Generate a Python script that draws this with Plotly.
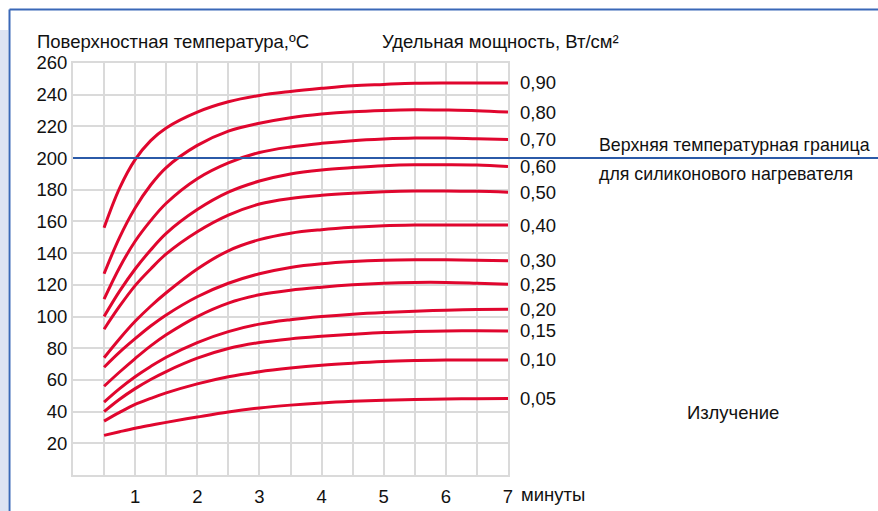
import plotly.graph_objects as go

# Time points (minutes)
minutes = [0.5, 0.75, 1.0, 1.25, 1.5, 2.0, 2.5, 3.0, 3.5, 4.0, 4.5, 5.0, 5.5, 6.0, 6.5, 7.0]

# Specific power labels (W/cm²)
power_labels = ["0,90", "0,80", "0,70", "0,60", "0,50", "0,40", "0,30", "0,25", "0,20", "0,15", "0,10", "0,05"]

# Surface temperature (°C) for each power level
t_090 = [156, 181, 199, 211, 219, 229, 235.5, 239.5, 242, 244, 245.7, 246.5, 247.2, 247.4, 247.4, 247.4]
t_080 = [127, 150, 168.5, 183, 194, 208, 217, 222, 225.5, 227.8, 229.3, 230.1, 230.5, 230.3, 229.9, 229]
t_070 = [111, 131, 147.5, 160.5, 171.5, 187, 197, 203.5, 207, 209.3, 211, 212, 212.6, 212.6, 212.2, 211.8]
t_060 = [100, 116, 130, 142, 152.5, 167.5, 178.5, 185.5, 190, 192.5, 194, 195.2, 195.8, 195.8, 195.6, 194.7]
t_050 = [92, 106.5, 119.5, 130, 139.5, 153.5, 164, 171, 174.5, 176.5, 177.8, 178.7, 179.2, 179.2, 179, 178.5]
t_040 = [74, 86, 97, 106.5, 115, 130, 141.5, 148.5, 152.6, 154.8, 156.3, 157.3, 157.7, 157.8, 157.8, 157.7]
t_030 = [68, 77.5, 86, 94, 101, 112.5, 121, 127, 131, 133.3, 134.7, 135.5, 135.8, 135.8, 135.6, 135.2]
t_025 = [56, 65, 73.5, 81.5, 88.5, 100, 108.5, 113.7, 116.6, 118.5, 120, 121, 121.5, 121.5, 121, 120.4]
t_020 = [46, 54.5, 62, 68.5, 74.3, 83.6, 90.5, 95.2, 98, 100, 101.5, 102.6, 103.4, 104, 104.4, 104.6]
t_015 = [40, 47.8, 54.5, 60.3, 65.3, 73.7, 79.8, 83.6, 85.9, 87.5, 88.8, 89.9, 90.5, 90.9, 91, 90.9]
t_010 = [34, 39.5, 44.5, 48.3, 51.8, 57.5, 62, 65.2, 67.5, 69.3, 70.6, 71.6, 72.2, 72.6, 72.6, 72.6]
t_005 = [25, 27.3, 29.5, 31.4, 33.2, 36.6, 39.8, 42.3, 44.1, 45.5, 46.5, 47.2, 47.6, 48, 48.1, 48.2]

series = [t_090, t_080, t_070, t_060, t_050, t_040, t_030, t_025, t_020, t_015, t_010, t_005]

# Axis ticks
y_ticks = [20, 40, 60, 80, 100, 120, 140, 160, 180, 200, 220, 240, 260]
x_grid = [0, 0.5, 1, 1.5, 2, 2.5, 3, 3.5, 4, 4.5, 5, 5.5, 6, 6.5, 7]
x_ticktext = ["", "", "1", "", "2", "", "3", "", "4", "", "5", "", "6", "", "7"]
limit_temp = 200

RED = "#e0062e"
BLUE = "#2b5aa8"
GRID = "#dadada"
FONT = "Liberation Sans, Arial, sans-serif"
FS = 18.5

fig = go.Figure()
for lab, ys in zip(power_labels, series):
    fig.add_trace(go.Scatter(x=minutes, y=ys, mode="lines", name=lab,
                             line=dict(color=RED, width=3, shape="spline", smoothing=1.0),
                             hoverinfo="skip", showlegend=False))
    fig.add_annotation(x=minutes[-1], y=ys[-1], xref="x", yref="y", text=lab,
                       showarrow=False, xanchor="left", yanchor="middle", xshift=10,
                       font=dict(size=FS, color="#111", family=FONT))

# Upper temperature limit line
fig.add_shape(type="line", xref="paper", yref="y", x0=0, x1=(878 - 73) / 435,
              y0=limit_temp, y1=limit_temp, line=dict(color=BLUE, width=2), layer="above")

# Decorative frame
fig.add_shape(type="rect", xref="paper", yref="paper", x0=-73 / 435, x1=(8 - 73) / 435,
              y0=-36 / 412 - 0.01, y1=(475 - 30) / 412, fillcolor="#dde3f3", line=dict(width=0), layer="below")
fig.add_shape(type="line", xref="paper", yref="paper", x0=(9.5 - 73) / 435, x1=(880 - 73) / 435,
              y0=(475 - 9.5) / 412, y1=(475 - 9.5) / 412, line=dict(color="#3a68b8", width=2))
fig.add_shape(type="line", xref="paper", yref="paper", x0=(9.5 - 73) / 435, x1=(9.5 - 73) / 435,
              y0=-36 / 412 - 0.01, y1=(475 - 9.5) / 412, line=dict(color="#3a68b8", width=2))

def px_x(px):
    return (px - 73) / 435

def px_y(py):
    return (475 - py) / 412

texts = [
    ("Поверхностная температура,ºC", 35, 42, FS),
    ("Удельная мощность, Вт/см²", 380, 42, FS),
    ("Верхняя температурная граница", 597, 145, 17.8),
    ("для силиконового нагревателя", 597, 174, 17.8),
    ("Излучение", 685, 412, FS),
    ("минуты", 519, 494, FS),
]
for t, x, y, fs in texts:
    fig.add_annotation(x=px_x(x), y=px_y(y), xref="paper", yref="paper", text=t,
                       showarrow=False, xanchor="left", yanchor="middle",
                       font=dict(size=fs, color="#111", family=FONT))

fig.update_xaxes(range=[0, 7], tickvals=x_grid, ticktext=x_ticktext, showgrid=True,
                 gridcolor=GRID, gridwidth=2, zeroline=False, showline=True, mirror=True,
                 linecolor=GRID, linewidth=2, ticks="", ticklabelstandoff=4, automargin=False,
                 tickfont=dict(size=FS, color="#111", family=FONT))
fig.update_yaxes(range=[0, 260], tickvals=y_ticks, showgrid=True, gridcolor=GRID, gridwidth=2,
                 zeroline=False, showline=True, mirror=True, linecolor=GRID, linewidth=2, ticks="",
                 automargin=False, tickfont=dict(size=FS, color="#111", family=FONT))

fig.update_layout(width=878, height=511, margin=dict(l=73, r=370, t=63, b=36),
                  paper_bgcolor="white", plot_bgcolor="white", showlegend=False,
                  font=dict(family=FONT, size=FS, color="#111"))

fig.write_html("out.html", config={"displayModeBar": False},
               post_script="document.body.style.margin='0';")
